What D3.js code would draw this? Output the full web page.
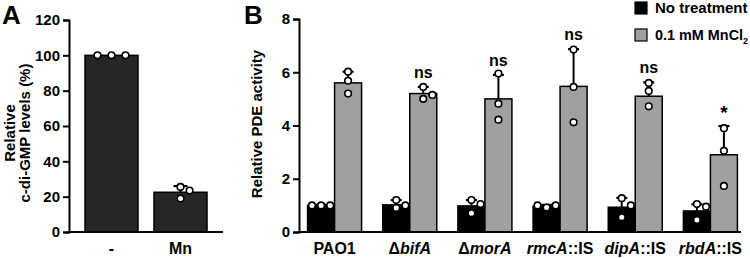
<!DOCTYPE html>
<html>
<head>
<meta charset="utf-8">
<script src="https://cdn.jsdelivr.net/npm/d3@7"></script>
<style>
  body { margin: 0; background: #fff; }
  svg text { font-family: "Liberation Sans", Arial, sans-serif; font-weight: bold; }
</style>
</head>
<body>
<svg id="chart" width="750" height="258"></svg>
<script>
// panel A data
const catsA = ["-", "Mn"];
const meansA = [100, 22.5];
const sdA = [0, 3.5];
const pointsA = [[100, 100, 100], [25.5, 19, 23.5]];
const ticksA = [0, 20, 40, 60, 80, 100, 120];

// panel B data
const strains = ["PAO1", "bifA", "morA", "rmcA", "dipA", "rbdA"];
const treatments = ["No treatment", "0.1 mM MnCl2"];
const meansNo = [1.0, 1.02, 0.98, 0.97, 0.93, 0.79];
const sdNo = [0.02, 0.18, 0.22, 0.05, 0.35, 0.25];
const meansMn = [5.6, 5.2, 5.0, 5.47, 5.1, 2.9];
const sdMn = [0.42, 0.25, 0.9, 1.4, 0.52, 1.08];
const pointsNo = [[1.0, 1.0, 1.0], [1.2, 0.9, 1.0], [1.2, 1.05, 0.7], [0.92, 1.0, 1.0], [1.27, 1.0, 0.55], [1.05, 0.95, 0.45]];
const pointsMn = [[6.02, 5.68, 5.2], [5.45, 5.0, 5.15], [5.95, 4.82, 4.22], [6.85, 5.45, 4.12], [5.6, 5.3, 4.72], [3.9, 3.05, 1.73]];
const sigLabels = ["", "ns", "ns", "ns", "ns", "*"];
const ticksB = [0, 2, 4, 6, 8];

const svg = d3.select("#chart");
const r = 3.3;

// spread overlapping dots sideways, like a dot plot
function dodge(vals, yScale, cx) {
  const placed = [];
  return vals.map(v => {
    const y = yScale(v);
    const tries = [0, 1, -1, 2, -2];
    let x = cx;
    for (const t of tries) {
      const cand = cx + t * (2 * r + 2.5);
      if (placed.every(p => Math.hypot(p[0] - cand, p[1] - y) >= 2 * r + 1)) { x = cand; break; }
    }
    placed.push([x, y]);
    return [x, y];
  });
}

function drawErr(g, cx, yTop, yMean, capW) {
  g.append("line").attr("x1", cx).attr("x2", cx).attr("y1", yMean).attr("y2", yTop)
    .attr("stroke", "#000").attr("stroke-width", 2);
  g.append("line").attr("x1", cx - capW / 2).attr("x2", cx + capW / 2).attr("y1", yTop).attr("y2", yTop)
    .attr("stroke", "#000").attr("stroke-width", 2.2);
}

function drawDots(g, pts) {
  g.selectAll(null).data(pts).join("circle")
    .attr("cx", d => d[0]).attr("cy", d => d[1]).attr("r", r)
    .attr("fill", "#fff").attr("stroke", "#000").attr("stroke-width", 1.6);
}

function styleAxis(ax) {
  ax.select(".domain").attr("stroke-width", 2);
  ax.selectAll(".tick line").attr("stroke-width", 2);
  ax.selectAll(".tick text").attr("font-size", 15).attr("fill", "#000");
}

// ---------- panel A ----------
const yA = d3.scaleLinear().domain([0, 120]).range([232, 20]);
const xA = d3.scaleBand().domain(catsA).range([85, 207]).paddingInner(0.232).paddingOuter(0);
const gA = svg.append("g");

gA.selectAll("rect").data(catsA).join("rect")
  .attr("x", d => xA(d)).attr("width", xA.bandwidth())
  .attr("y", (d, i) => yA(meansA[i])).attr("height", (d, i) => yA(0) - yA(meansA[i]))
  .attr("fill", "#262626").attr("stroke", "#000").attr("stroke-width", 1.5);

catsA.forEach((c, i) => {
  const cx = xA(c) + xA.bandwidth() / 2;
  if (sdA[i] > 0) drawErr(gA, cx, yA(meansA[i] + sdA[i]), yA(meansA[i]), 14);
  drawDots(gA, dodge(pointsA[i], yA, cx).map((p, k) => i === 0 ? [cx + (k - 1) * 14, p[1]] : p));
});

const axA = gA.append("g").attr("transform", "translate(69,0)")
  .call(d3.axisLeft(yA).tickValues(ticksA).tickSize(6).tickPadding(3));
styleAxis(axA);
gA.append("line").attr("x1", 68).attr("x2", 223).attr("y1", 232).attr("y2", 232)
  .attr("stroke", "#000").attr("stroke-width", 2);
gA.selectAll(".xlab").data(catsA).join("text")
  .attr("x", d => xA(d) + xA.bandwidth() / 2).attr("y", 254)
  .attr("text-anchor", "middle").attr("font-size", 16).text(d => d);

const labA = gA.append("text").attr("transform", "translate(15,133) rotate(-90)")
  .attr("text-anchor", "middle").attr("font-size", 15);
labA.append("tspan").attr("x", 0).attr("dy", 0).text("Relative");
labA.append("tspan").attr("x", 0).attr("dy", 15).text("c-di-GMP levels (%)");

svg.append("text").attr("x", 2).attr("y", 24).attr("font-size", 26).text("A");

// ---------- panel B ----------
const yB = d3.scaleLinear().domain([0, 8]).range([232, 19]);
const xB = d3.scaleBand().domain(strains).range([297, 748]);
const barW = 27;
const gB = svg.append("g");

strains.forEach((s, i) => {
  const c = xB(s) + xB.bandwidth() / 2;
  // untreated
  gB.append("rect").attr("x", c - barW).attr("width", barW)
    .attr("y", yB(meansNo[i])).attr("height", yB(0) - yB(meansNo[i]))
    .attr("fill", "#000").attr("stroke", "#000").attr("stroke-width", 1.5);
  // MnCl2
  gB.append("rect").attr("x", c).attr("width", barW)
    .attr("y", yB(meansMn[i])).attr("height", yB(0) - yB(meansMn[i]))
    .attr("fill", "#a0a0a0").attr("stroke", "#000").attr("stroke-width", 1.5);
  drawErr(gB, c - barW / 2, yB(meansNo[i] + sdNo[i]), yB(meansNo[i]), 11);
  drawErr(gB, c + barW / 2, yB(meansMn[i] + sdMn[i]), yB(meansMn[i]), 11);
  drawDots(gB, dodge(pointsNo[i], yB, c - barW / 2));
  drawDots(gB, dodge(pointsMn[i], yB, c + barW / 2));
  if (sigLabels[i]) {
    gB.append("text").attr("x", c + barW / 2)
      .attr("y", yB(meansMn[i] + sdMn[i]) - (sigLabels[i] === "*" ? 7 : 9))
      .attr("text-anchor", "middle").attr("font-size", sigLabels[i] === "*" ? 19 : 16)
      .text(sigLabels[i]);
  }
});

const axB = gB.append("g").attr("transform", "translate(299,0)")
  .call(d3.axisLeft(yB).tickValues(ticksB).tickSize(6).tickPadding(3));
styleAxis(axB);
gB.append("line").attr("x1", 298).attr("x2", 741).attr("y1", 232).attr("y2", 232)
  .attr("stroke", "#000").attr("stroke-width", 2);

// strain labels with italic gene names
const xl = gB.selectAll(".xlab").data(strains).join("text")
  .attr("x", d => xB(d) + xB.bandwidth() / 2).attr("y", 254)
  .attr("text-anchor", "middle").attr("font-size", 16);
xl.each(function(d, i) {
  const t = d3.select(this);
  if (i === 0) { t.text(d); return; }
  if (i <= 2) {
    t.append("tspan").text("\u0394");
    t.append("tspan").attr("font-style", "italic").text(d);
  } else {
    t.append("tspan").attr("font-style", "italic").text(d);
    t.append("tspan").text("::IS");
  }
});

gB.append("text").attr("transform", "translate(262,124) rotate(-90)")
  .attr("text-anchor", "middle").attr("font-size", 15).text("Relative PDE activity");

svg.append("text").attr("x", 244).attr("y", 24).attr("font-size", 26).text("B");

// legend
const legColors = ["#000", "#a0a0a0"];
treatments.forEach((t, i) => {
  svg.append("rect").attr("x", 635).attr("y", 2 + i * 27).attr("width", 12).attr("height", 12)
    .attr("fill", legColors[i]).attr("stroke", "#000").attr("stroke-width", 1.2);
  const txt = svg.append("text").attr("x", 655).attr("y", 13 + i * 27).attr("font-size", 15);
  if (t.endsWith("2")) {
    txt.append("tspan").text(t.slice(0, -1));
    txt.append("tspan").attr("font-size", 9).attr("dy", 4).text("2");
  } else {
    txt.text(t);
  }
  // shrink to fit inside the right edge
  const w = txt.node().getBBox().width;
  if (655 + w > 748) txt.attr("font-size", 15 * (748 - 655) / w);
});
</script>
</body>
</html>
